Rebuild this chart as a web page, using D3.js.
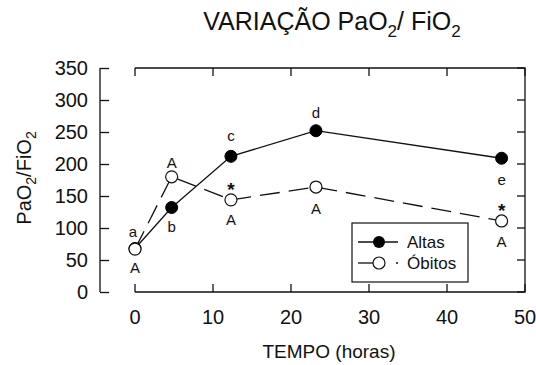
<!DOCTYPE html>
<html>
<head>
<meta charset="utf-8">
<script src="https://cdn.jsdelivr.net/npm/d3@7"></script>
<style>
  body { margin: 0; background: #fff; }
  text { font-family: "Liberation Sans", Arial, sans-serif; fill: #111; }
</style>
</head>
<body>
<svg class="chart" width="536" height="365"></svg>
<script>
const hours = [0, 4.7, 12.3, 23.2, 47];
const altas = [68, 132, 212, 252, 209];
const obitos = [67, 180, 144, 164, 111];
const altasLetters = ['a', 'b', 'c', 'd', 'e'];
const obitosLetters = ['A', 'A', 'A', 'A', 'A'];
const obitosStars = ['', '', '*', '', '*'];
const xTicks = [0, 10, 20, 30, 40, 50];
const yTicks = [0, 50, 100, 150, 200, 250, 300, 350];

const svg = d3.select('.chart');

const x = d3.scaleLinear().domain([0, 50]).range([135, 525]);
const y = d3.scaleLinear().domain([0, 350]).range([292, 68]);

// title
const title = svg.append('text')
    .attr('x', 332).attr('y', 30)
    .attr('text-anchor', 'middle')
    .style('font-size', '25px');
title.append('tspan').text('VARIAÇÃO PaO');
title.append('tspan').attr('dy', 7).style('font-size', '17px').text('2');
title.append('tspan').attr('dy', -7).text('/ FiO');
title.append('tspan').attr('dy', 7).style('font-size', '17px').text('2');

// offset y axis
const yAxis = svg.append('g')
    .attr('transform', 'translate(100,0)')
    .call(d3.axisRight(y).tickValues(yTicks).tickSize(9).tickFormat(''));
yAxis.select('.domain').attr('d', `M0,${y(0)}V${y(350)}`);
yAxis.selectAll('line, path').attr('stroke', '#111').attr('stroke-width', 1.3);
svg.append('g').selectAll('text')
    .data(yTicks)
    .join('text')
    .attr('x', 88)
    .attr('y', d => y(d) + 7)
    .attr('text-anchor', 'end')
    .style('font-size', '20px')
    .text(d => d);

// frame with inward ticks
const frame = svg.append('g').attr('stroke', '#111').attr('stroke-width', 1.3).attr('fill', 'none');
frame.append('path').attr('d', `M${x(0)},${y(350)}H${x(50)}V${y(0)}H${x(0)}`);
frame.selectAll('.bt').data(xTicks).join('line')
    .attr('x1', d => x(d)).attr('x2', d => x(d))
    .attr('y1', y(0)).attr('y2', y(0) - 8);
frame.selectAll('.tt').data(xTicks).join('line')
    .attr('x1', d => x(d)).attr('x2', d => x(d))
    .attr('y1', y(350)).attr('y2', y(350) + 8);
frame.selectAll('.rt').data(yTicks).join('line')
    .attr('x1', x(50)).attr('x2', x(50) - 8)
    .attr('y1', d => y(d)).attr('y2', d => y(d));

svg.append('g').selectAll('text')
    .data(xTicks)
    .join('text')
    .attr('x', d => x(d))
    .attr('y', 324)
    .attr('text-anchor', 'middle')
    .style('font-size', '20px')
    .text(d => d);

svg.append('text')
    .attr('x', 329).attr('y', 358)
    .attr('text-anchor', 'middle')
    .style('font-size', '19px')
    .text('TEMPO (horas)');

// y label
const yl = svg.append('text')
    .attr('transform', 'translate(31,178) rotate(-90)')
    .attr('text-anchor', 'middle')
    .style('font-size', '20px');
yl.append('tspan').text('PaO');
yl.append('tspan').attr('dy', 5).style('font-size', '14px').text('2');
yl.append('tspan').attr('dy', -5).text('/FiO');
yl.append('tspan').attr('dy', 5).style('font-size', '14px').text('2');

// lines
const line = d3.line().x(d => x(d[0])).y(d => y(d[1]));
const altasPts = hours.map((h, i) => [h, altas[i]]);
const obitosPts = hours.map((h, i) => [h, obitos[i]]);

svg.append('path')
    .attr('d', line(obitosPts))
    .attr('fill', 'none').attr('stroke', '#111').attr('stroke-width', 1.3)
    .attr('stroke-dasharray', '20,9');
svg.append('path')
    .attr('d', line(altasPts))
    .attr('fill', 'none').attr('stroke', '#111').attr('stroke-width', 1.3);

svg.append('g').selectAll('circle')
    .data(altasPts)
    .join('circle')
    .attr('cx', d => x(d[0])).attr('cy', d => y(d[1]))
    .attr('r', 6).attr('fill', '#000').attr('stroke', '#000');
svg.append('g').selectAll('circle')
    .data(obitosPts)
    .join('circle')
    .attr('cx', d => x(d[0])).attr('cy', d => y(d[1]))
    .attr('r', 6).attr('fill', '#fff').attr('stroke', '#111').attr('stroke-width', 1.2);

// letters
const altasOff = [-11, 24, -15, -13, 27];
const altasDx = [-2, 0, 0, 0, 0];
svg.append('g').selectAll('text')
    .data(altasPts)
    .join('text')
    .attr('x', (d, i) => x(d[0]) + altasDx[i])
    .attr('y', (d, i) => y(d[1]) + altasOff[i])
    .attr('text-anchor', 'middle')
    .style('font-size', '15px')
    .text((d, i) => altasLetters[i]);

const obitosOff = [24, -9, 25, 27, 26];
svg.append('g').selectAll('text')
    .data(obitosPts)
    .join('text')
    .attr('x', d => x(d[0]))
    .attr('y', (d, i) => y(d[1]) + obitosOff[i])
    .attr('text-anchor', 'middle')
    .style('font-size', '15px')
    .text((d, i) => obitosLetters[i]);

svg.append('g').selectAll('text')
    .data(obitosPts)
    .join('text')
    .attr('x', d => x(d[0]))
    .attr('y', d => y(d[1]) - 4)
    .attr('text-anchor', 'middle')
    .style('font-size', '19px')
    .style('font-weight', 'bold')
    .text((d, i) => obitosStars[i]);

// legend
const lg = svg.append('g');
lg.append('rect')
    .attr('x', 352).attr('y', 223).attr('width', 116).attr('height', 59)
    .attr('fill', '#fff').attr('stroke', '#111').attr('stroke-width', 1.2);
lg.append('line').attr('x1', 358).attr('x2', 398).attr('y1', 242).attr('y2', 242)
    .attr('stroke', '#111').attr('stroke-width', 1.3);
lg.append('circle').attr('cx', 379).attr('cy', 242).attr('r', 6).attr('fill', '#000');
lg.append('line').attr('x1', 358).attr('x2', 378).attr('y1', 263).attr('y2', 263)
    .attr('stroke', '#111').attr('stroke-width', 1.3);
lg.append('line').attr('x1', 396).attr('x2', 398).attr('y1', 263).attr('y2', 263)
    .attr('stroke', '#111').attr('stroke-width', 1.3);
lg.append('circle').attr('cx', 379).attr('cy', 263).attr('r', 6)
    .attr('fill', '#fff').attr('stroke', '#111').attr('stroke-width', 1.2);
lg.append('text').attr('x', 407).attr('y', 248).style('font-size', '17px').text('Altas');
lg.append('text').attr('x', 407).attr('y', 269).style('font-size', '17px').text('Óbitos');
</script>
</body>
</html>
